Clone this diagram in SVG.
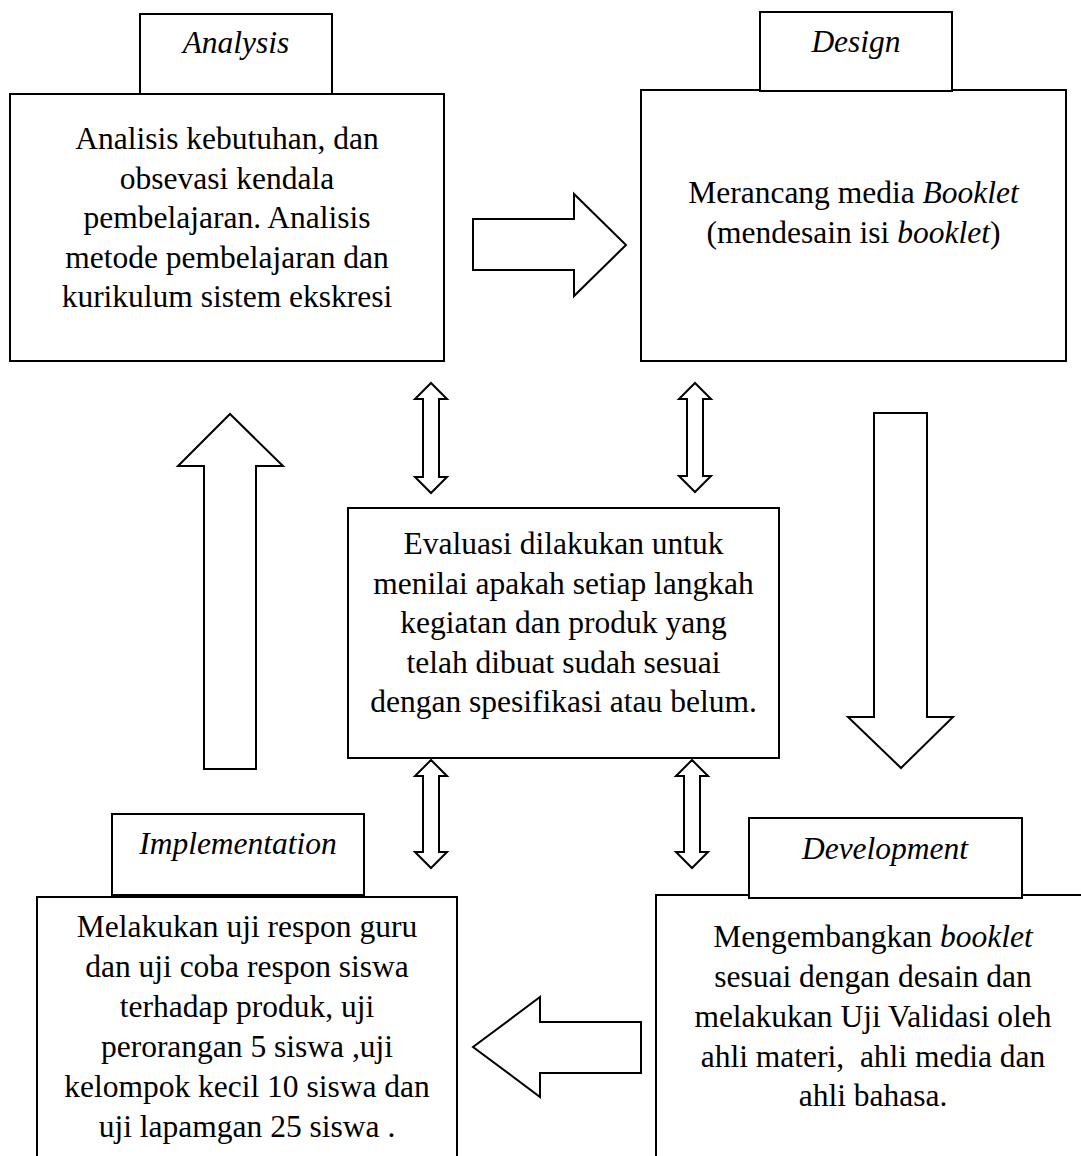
<svg xmlns="http://www.w3.org/2000/svg" width="1081" height="1156" viewBox="0 0 1081 1156">
<style>
.bx{fill:#fff;stroke:#000;stroke-width:2}
.ar{fill:#fff;stroke:#000;stroke-width:2;stroke-linejoin:miter}
text{font-family:"Liberation Serif","Times New Roman",serif;font-size:31.5px;fill:#000;text-anchor:middle}
.it{font-style:italic}
</style>
<rect width="1081" height="1156" fill="#fff"/>
<g id="connectors">
<polygon class="ar" points="473,219 574,219 574,194 626,245 574,296 574,270 473,270"/>
<polygon class="ar" points="874,413 927,413 927,717 953,717 901,768 848,717 874,717"/>
<polygon class="ar" points="641,1022 641,1073 540,1073 540,1097 473,1047 540,997 540,1022"/>
<polygon class="ar" points="230,414 283,466 256,466 256,769 204,769 204,466 178,466"/>
<polygon class="ar" points="431,383 447,399 439,399 439,477 447,477 431,493 415,477 423,477 423,399 415,399"/>
<polygon class="ar" points="695,383 711,399 703,399 703,476 711,476 695,492 679,476 687,476 687,399 679,399"/>
<polygon class="ar" points="431,760 447,776 439,776 439,852 447,852 431,868 415,852 423,852 423,776 415,776"/>
<polygon class="ar" points="692,760 708,776 700,776 700,852 708,852 692,868 676,852 684,852 684,776 676,776"/>
</g>
<g id="analysis">
<rect class="bx" x="10" y="94" width="434" height="267"/>
<rect class="bx" x="140" y="14" width="192" height="80"/>
<text class="it" x="236" y="53">Analysis</text>
<text x="227" y="149">Analisis kebutuhan, dan</text>
<text x="227" y="188.5">obsevasi kendala</text>
<text x="227" y="228">pembelajaran. Analisis</text>
<text x="227" y="267.5">metode pembelajaran dan</text>
<text x="227" y="307">kurikulum sistem ekskresi</text>
</g>
<g id="design">
<rect class="bx" x="641" y="90" width="425" height="271"/>
<rect class="bx" x="760" y="12" width="192" height="79"/>
<text class="it" x="856" y="52">Design</text>
<text x="853.5" y="203">Merancang media <tspan class="it">Booklet</tspan></text>
<text x="853.5" y="243">(mendesain isi <tspan class="it">booklet</tspan>)</text>
</g>
<g id="evaluation">
<rect class="bx" x="348" y="508" width="431" height="250"/>
<text x="563.5" y="554">Evaluasi dilakukan untuk</text>
<text x="563.5" y="593.5">menilai apakah setiap langkah</text>
<text x="563.5" y="633">kegiatan dan produk yang</text>
<text x="563.5" y="672.5">telah dibuat sudah sesuai</text>
<text x="563.5" y="712">dengan spesifikasi atau belum.</text>
</g>
<g id="implementation">
<path class="bx" d="M37,1157 V897 H457 V1157"/>
<rect class="bx" x="112" y="814" width="252" height="81"/>
<text class="it" x="238" y="854">Implementation</text>
<text x="247" y="937">Melakukan uji respon guru</text>
<text x="247" y="977">dan uji coba respon siswa</text>
<text x="247" y="1017">terhadap produk, uji</text>
<text x="247" y="1057">perorangan 5 siswa ,uji</text>
<text x="247" y="1097">kelompok kecil 10 siswa dan</text>
<text x="247" y="1137">uji lapamgan 25 siswa .</text>
</g>
<g id="development">
<path class="bx" d="M656,1157 V895 H1082"/>
<rect class="bx" x="749" y="818" width="273" height="80"/>
<text class="it" x="885" y="859">Development</text>
<text x="873" y="947">Mengembangkan <tspan class="it">booklet</tspan></text>
<text x="873" y="987">sesuai dengan desain dan</text>
<text x="873" y="1027">melakukan Uji Validasi oleh</text>
<text x="873" y="1067" xml:space="preserve">ahli materi,  ahli media dan</text>
<text x="873" y="1106">ahli bahasa.</text>
</g>
</svg>
